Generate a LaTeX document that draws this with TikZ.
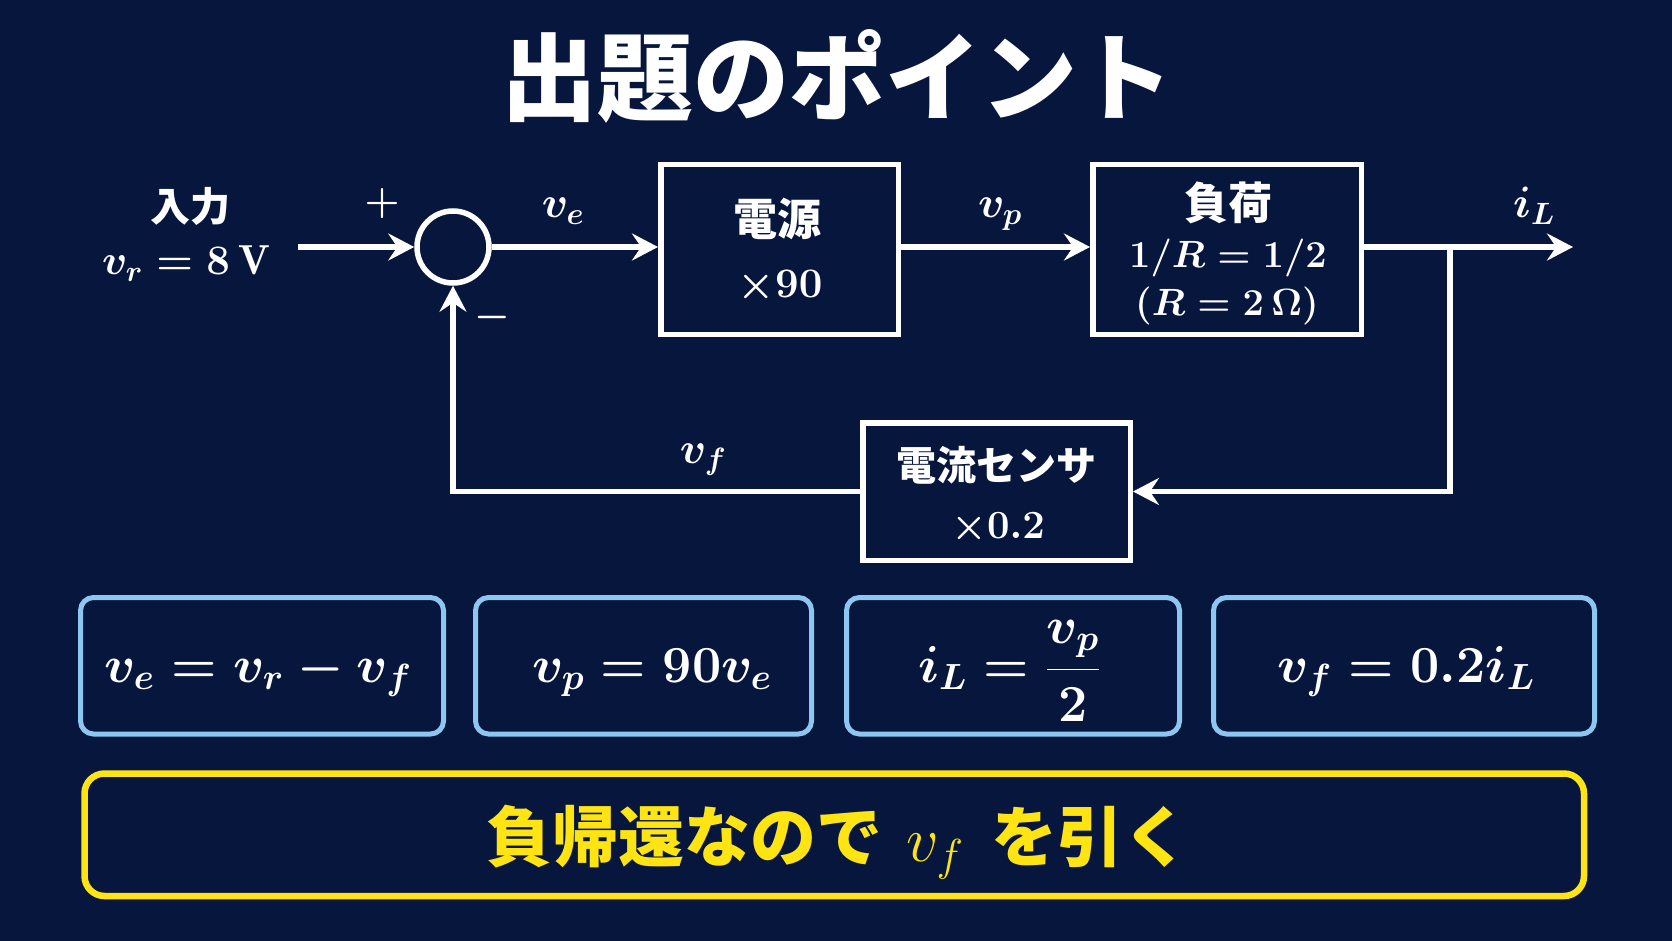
\RequirePackage{fix-cm}
\documentclass[tikz,border=0pt]{standalone}
\usepackage{fontspec}
\newfontfamily\jp{Noto Sans CJK JP}
\usetikzlibrary{arrows.meta}
\definecolor{bg}{HTML}{07163D}
\definecolor{eqblue}{HTML}{8EC6F2}
\definecolor{hlyellow}{HTML}{FFE414}
\newcommand{\fsz}[1]{\fontsize{#1}{#1}\selectfont}
\begin{document}
\begin{tikzpicture}[x=1pt,y=-1pt,
  arr/.style={draw=white, line width=5.5pt, -{Stealth[length=26pt,width=27pt,inset=9pt]}},
  blockbox/.style={draw=white, line width=5.5pt, inner sep=0pt},
  eqbox/.style={draw=eqblue, line width=5pt, rounded corners=13pt, inner sep=0pt},
  txt/.style={text=white, inner sep=0pt},
  jpt/.style={txt, font=\jp\bfseries\fsz{#1}},
  mth/.style={txt, anchor=base, font=\fsz{#1}\boldmath}
]
\fill[bg] (0,0) rectangle (1672,941);
\useasboundingbox (0,0) rectangle (1672,941);

% title
\node[jpt=96] (title) at (837,76) {出題のポイント};

% input
\node[jpt=40] (inlab) at (190,206) {入力};
\node[mth=42] (vr) at (186,275) {$v_r = 8\,\mathrm{V}$};

% summing junction
\node[draw=white, line width=5.5pt, circle, minimum size=72pt, inner sep=0pt] (sum) at (453,247) {};
\node[txt, font=\fsz{40}\boldmath] (plus) at (382,204) {$+$};
\node[txt, font=\fsz{40}\boldmath] (minus) at (492,317) {$-$};

% blocks
\node[blockbox, minimum width=237.5pt, minimum height=169.5pt] (src) at (779.5,249.5) {};
\node[jpt=44] (srcA) at (777,219) {電源};
\node[mth=42] (srcB) at (780,297) {$\times 90$};

\node[blockbox, minimum width=268.5pt, minimum height=169.5pt] (load) at (1227,249.5) {};
\node[jpt=44] (loadA) at (1228,203) {負荷};
\node[mth=38] (loadB) at (1228,267) {$1/R = 1/2$};
\node[mth=38] (loadC) at (1227,315) {$(R = 2\,\Omega)$};

\node[blockbox, minimum width=267.5pt, minimum height=137.5pt] (sensor) at (996.5,491.5) {};
\node[jpt=40] (sensA) at (996,465) {電流センサ};
\node[mth=40] (sensB) at (998,538) {$\times 0.2$};

% signal labels
\node[mth=44] (ve) at (563,218) {$v_e$};
\node[mth=44] (vp) at (1000,218) {$v_p$};
\node[mth=44] (iL) at (1534,218) {$i_L$};
\node[mth=44] (vf) at (703,463) {$v_f$};

% connectors
\coordinate (inS) at (298,247);
\coordinate (out) at (1573,247);
\coordinate (br) at (1450,247);
\draw[arr] (inS) -- (sum.west);
\draw[arr] (sum.east) -- (sum.east -| src.west);
\draw[arr] (src.east |- sum) -- (load.west |- sum);
\draw[arr] (load.east |- sum) -- (out);
\draw[arr] (br) |- (sensor.east);
\draw[arr] (sensor.west) -| (sum.south);

% equation boxes
\node[eqbox, minimum width=363pt, minimum height=136.5pt] (eqA) at (262,665.75) {};
\node[eqbox, minimum width=336pt, minimum height=136.5pt] (eqB) at (643.5,665.75) {};
\node[eqbox, minimum width=333pt, minimum height=136.5pt] (eqC) at (1013,665.75) {};
\node[eqbox, minimum width=381pt, minimum height=136.5pt] (eqD) at (1404,665.75) {};
\node[mth=52] (eqAt) at (258,682) {$v_e = v_r - v_f$};
\node[mth=52] (eqBt) at (652,682) {$v_p = 90v_e$};
\node[mth=52] (eqCt) at (1009,682) {$i_L = \displaystyle\frac{v_p}{2}$};
\node[mth=52] (eqDt) at (1406,682) {$v_f = 0.2i_L$};

% note
\node[draw=hlyellow, line width=6.5pt, rounded corners=20pt, inner sep=0pt, minimum width=1499.5pt, minimum height=122.5pt] (note) at (834.25,834.75) {};
\node[text=hlyellow, inner sep=0pt, anchor=base] (noteT) at (838,861) {{\jp\bfseries\fsz{66}負帰還なので}\hspace{24pt}{\fsz{64}$v_f$}\hspace{28pt}{\jp\bfseries\fsz{66}を引く}};
\end{tikzpicture}
\end{document}
